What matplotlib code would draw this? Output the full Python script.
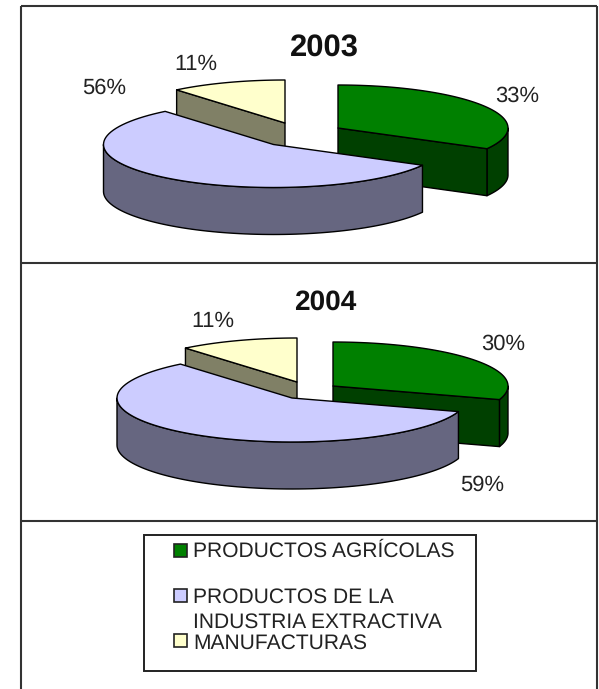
import numpy as np
import matplotlib
matplotlib.use("Agg")
import matplotlib.pyplot as plt
from matplotlib.patches import Polygon, Rectangle

plt.rcParams['font.family'] = ['Liberation Sans', 'DejaVu Sans']
plt.rcParams['text.hinting'] = 'none'
plt.rcParams['text.hinting_factor'] = 1

# ---- data ----
categories = ["PRODUCTOS AGRÍCOLAS", "PRODUCTOS DE LA\nINDUSTRIA EXTRACTIVA", "MANUFACTURAS"]
years = ["2003", "2004"]
values_2003 = [33, 56, 11]
values_2004 = [30, 59, 11]

# ---- styles ----
top_colors = ["#008000", "#CCCCFF", "#FFFFCC"]
side_colors = ["#004000", "#666680", "#808066"]
TXT = "#222222"
FRAME = "#333333"

W, H = 599, 689
fig = plt.figure(figsize=(W / 100, H / 100), dpi=100)
ax = fig.add_axes([0, 0, 1, 1])
ax.set_xlim(0, W)
ax.set_ylim(H, 0)
ax.axis("off")


def pt(c, rx, ry, deg, dz=0):
    t = np.radians(deg)
    return c[0] + rx * np.sin(t), c[1] - ry * np.cos(t) + dz


def arc(c, rx, ry, a0, a1, dz=0, n=80):
    t = np.radians(np.linspace(a0, a1, n))
    return np.column_stack([c[0] + rx * np.sin(t), c[1] - ry * np.cos(t) + dz])


def poly(points, fc, z):
    ax.add_patch(Polygon(points, closed=True, fc=fc, ec="black", lw=1.0,
                         joinstyle="round", zorder=z))


def pie3d(values, centers, rx, ry, depth, base_z):
    total = sum(values)
    starts = np.concatenate([[0], np.cumsum(values)[:-1]]) / total * 360
    ends = np.cumsum(values) / total * 360
    rank = np.argsort(np.argsort([c[1] for c in centers]))
    for i, (a0, a1, c) in enumerate(zip(starts, ends, centers)):
        z = base_z + rank[i]
        # outer wall: the part of the rim that faces the viewer
        lo, hi = max(a0, 90), min(a1, 270)
        if hi > lo:
            upper = arc(c, rx, ry, lo, hi)
            lower = arc(c, rx, ry, lo, hi, depth)[::-1]
            poly(np.vstack([upper, lower]), side_colors[i], z)
        # cut faces
        for ang, vis in ((a0, np.sin(np.radians(a0)) < -1e-6),
                         (a1, np.sin(np.radians(a1)) > 1e-6)):
            if vis:
                p = pt(c, rx, ry, ang)
                q = (p[0], p[1] + depth)
                poly([c, p, q, (c[0], c[1] + depth)], side_colors[i], z)
        # top surface
        poly(np.vstack([[c], arc(c, rx, ry, a0, a1)]), top_colors[i], z + 0.5)


pie3d(values_2003, [(338, 128), (273.5, 144.5), (285, 123)], 170, 43, 47, 3)
pie3d(values_2004, [(333, 386), (292, 398), (297, 382)], 175, 44, 47, 3)

# frame
for x0, y0, x1, y1 in [(21, 6, 597, 6), (21, 6, 21, H), (597, 6, 597, H),
                       (21, 263, 597, 263), (21, 521, 597, 521)]:
    ax.plot([x0, x1], [y0, y1], color=FRAME, lw=1.5, solid_capstyle="butt", zorder=1)

# titles and labels
ax.text(324, 48, years[0], fontsize=22.5, fontweight="bold", color="#111111",
        ha="center", va="center", zorder=10)
ax.text(325, 302, years[1], fontsize=20, fontweight="bold", color="#111111",
        ha="center", va="center", zorder=10)

label_xy_2003 = [(517, 96), (104, 88), (196, 64)]
label_xy_2004 = [(503, 344), (482, 485), (213, 321)]
for vals, xy in ((values_2003, label_xy_2003), (values_2004, label_xy_2004)):
    for v, (x, y) in zip(vals, xy):
        ax.text(x, y, f"{v}%", fontsize=16, color=TXT, ha="center", va="center", zorder=10)

# legend
ax.add_patch(Rectangle((144, 535), 332, 136, fc="white", ec="#222222", lw=1.4, zorder=2))
marker_y = [550, 595, 640]
line_y = [[551], [597, 622], [643]]
for col, label, my, ly in zip(top_colors, categories, marker_y, line_y):
    ax.add_patch(Rectangle((173.5, my - 6.5), 13, 13, fc=col, ec="#222222", lw=1.2, zorder=3))
    for part, y in zip(label.split("\n"), ly):
        ax.text(193, y, part, fontsize=15, color=TXT, ha="left", va="center", zorder=3)

fig.savefig("out.png", dpi=100)
